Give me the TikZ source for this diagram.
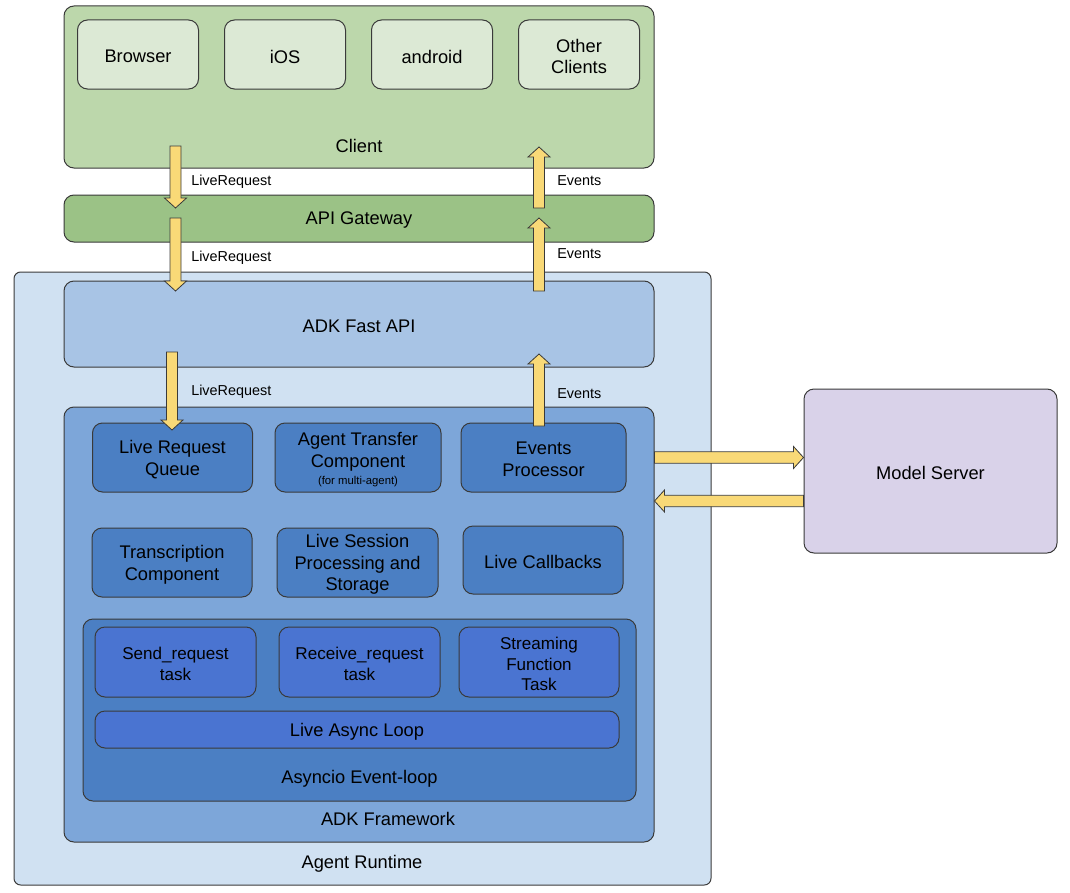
\documentclass[tikz,border=0pt]{standalone}
\usepackage{fontspec}
\setmainfont{Liberation Sans}
\usetikzlibrary{calc}
\definecolor{clientc}{HTML}{BCD7AB}
\definecolor{devc}{HTML}{DCE9D5}
\definecolor{gatec}{HTML}{9BC286}
\definecolor{runtc}{HTML}{D0E1F2}
\definecolor{fastc}{HTML}{A8C4E5}
\definecolor{frmc}{HTML}{7DA6D9}
\definecolor{compc}{HTML}{4B7FC3}
\definecolor{taskc}{HTML}{4A74D1}
\definecolor{modelc}{HTML}{D9D2E9}
\definecolor{arrc}{HTML}{F9D977}
\definecolor{edgec}{HTML}{3A3A3A}
\newcommand\fatv[2]{%
  \draw[fat] let \p1=#1, \p2=#2, \n1={sign(\y2-\y1)} in
  (\x1-4.125pt,\y1) -- (\x1-4.125pt,\y2-\n1*7.5pt) -- (\x1-8.25pt,\y2-\n1*7.5pt)
  -- (\x1,\y2) -- (\x1+8.25pt,\y2-\n1*7.5pt) -- (\x1+4.125pt,\y2-\n1*7.5pt)
  -- (\x1+4.125pt,\y1) -- cycle;}
\newcommand\fath[2]{%
  \draw[fat] let \p1=#1, \p2=#2, \n1={sign(\x2-\x1)} in
  (\x1,\y1-4.3pt) -- (\x2-\n1*7.5pt,\y1-4.3pt) -- (\x2-\n1*7.5pt,\y1-8.25pt)
  -- (\x2,\y1) -- (\x2-\n1*7.5pt,\y1+8.25pt) -- (\x2-\n1*7.5pt,\y1+4.3pt)
  -- (\x1,\y1+4.3pt) -- cycle;}
\newcommand\bigf{\fontsize{13.7}{16.3}\selectfont}
\newcommand\taskf{\fontsize{12.8}{15.4}\selectfont}
\tikzset{
  sz/.style 2 args={minimum width=#1*0.75pt, minimum height=#2*0.75pt},
  box/.style={draw=edgec, line width=0.75pt, rounded corners=7.5pt, inner sep=0pt},
  txt/.style={label={[inner sep=0pt, align=center, font=\bigf, yshift=-1.5pt]center:{#1}}},
  ttxt/.style={label={[inner sep=0pt, align=center, font=\taskf, yshift=-1.5pt]center:{#1}}},
  lbl/.style={inner sep=0pt, font=\bigf},
  small/.style={inner sep=0pt, anchor=west, font=\fontsize{10.8}{13}\selectfont},
  fat/.style={fill=arrc, draw=edgec, line width=0.6pt, line join=miter},
}
\begin{document}
\begin{tikzpicture}[x=0.75pt,y=-0.75pt]
\useasboundingbox (0,0) rectangle (1070,892);
% Client
\node[box, fill=clientc, sz={590}{162}] (client) at (359,87) {};
\node[box, fill=devc, sz={121}{69}, txt={Browser}] (browser) at (138,54.5) {};
\node[box, fill=devc, sz={121}{69}, txt={iOS}] (ios) at (285,54.5) {};
\node[box, fill=devc, sz={121}{69}, txt={android}] (android) at (432,54.5) {};
\node[box, fill=devc, sz={121}{69}, txt={Other\\Clients}] (other) at (579,54.5) {};
\node[lbl] (clientlbl) at (359,146) {Client};
% Gateway
\node[box, fill=gatec, sz={590}{47}, txt={API Gateway}] (gateway) at (359,218.5) {};
% Runtime
\node[box, fill=runtc, sz={697}{613}, rounded corners=5pt] (runtime) at (362.5,578.5) {};
\node[lbl] (runtimelbl) at (362,864) {Agent Runtime};
\node[box, fill=fastc, sz={590}{86}, txt={ADK Fast API}] (fastapi) at (359,324) {};
\node[box, fill=frmc, sz={590}{435}] (framework) at (359,624.5) {};
\node[lbl] (frameworklbl) at (388,819) {ADK Framework};
\node[box, fill=compc, sz={160}{69}, txt={Live Request\\Queue}] (lrq) at (172.5,457.5) {};
\node[box, fill=compc, sz={166}{69}, txt={Agent Transfer\\Component\\[-4pt]{\fontsize{8.5}{10}\selectfont (for multi-agent)}}] (atc) at (358,457.5) {};
\node[box, fill=compc, sz={165}{69}, txt={Events\\Processor}] (ep) at (543.5,457.5) {};
\node[box, fill=compc, sz={160}{69}, txt={Transcription\\Component}] (trans) at (172,562.5) {};
\node[box, fill=compc, sz={161}{69}, txt={Live Session\\Processing and\\Storage}] (lsp) at (357.5,562.5) {};
\node[box, fill=compc, sz={160}{68}, txt={Live Callbacks}] (lcb) at (543,560) {};
\node[box, fill=compc, sz={553}{182}] (asyncio) at (359.5,710) {};
\node[lbl] (asynciolbl) at (359.5,779) {Asyncio Event-loop};
\node[box, fill=taskc, sz={161}{70}, ttxt={Send\_request\\task}] (send) at (175.5,662) {};
\node[box, fill=taskc, sz={161}{70}, ttxt={Receive\_request\\task}] (recv) at (359.5,662) {};
\node[box, fill=taskc, sz={160}{70}, ttxt={Streaming\\Function\\Task}] (stream) at (539,662) {};
\node[box, fill=taskc, sz={524}{37}, txt={Live Async Loop}] (loop) at (357,729.5) {};
% Model server
\node[box, fill=modelc, sz={253}{164}, txt={Model Server}] (model) at (930.5,471) {};
% arrow end points
\coordinate (a1s) at (175.5,146);
\coordinate (a1e) at (175.5,208);
\coordinate (a2s) at (175.5,218);
\coordinate (a2e) at (175.5,291);
\coordinate (a3s) at (172,352);
\coordinate (a3e) at (172,430);
\coordinate (e1s) at (539,208);
\coordinate (e1e) at (539,147);
\coordinate (e2s) at (539,291);
\coordinate (e2e) at (539,218);
\coordinate (e3s) at (539,426);
\coordinate (e3e) at (539,354);
\coordinate (y1) at (0,457.5);
\coordinate (y2) at (0,501);
\coordinate (h1s) at (framework.east |- y1);
\coordinate (h1e) at (model.west |- y1);
\coordinate (h2s) at (model.west |- y2);
\coordinate (h2e) at (framework.east |- y2);
\fatv{(a1s)}{(a1e)}
\fatv{(a2s)}{(a2e)}
\fatv{(a3s)}{(a3e)}
\fatv{(e1s)}{(e1e)}
\fatv{(e2s)}{(e2e)}
\fatv{(e3s)}{(e3e)}
\fath{(h1s)}{(h1e)}
\fath{(h2s)}{(h2e)}
% labels
\node[small] (lr1) at (191,182) {LiveRequest};
\node[small] (lr2) at (191,258) {LiveRequest};
\node[small] (lr3) at (191,392) {LiveRequest};
\node[small] (ev1) at (557,181) {Events};
\node[small] (ev2) at (557,254) {Events};
\node[small] (ev3) at (557,394) {Events};
\end{tikzpicture}
\end{document}
